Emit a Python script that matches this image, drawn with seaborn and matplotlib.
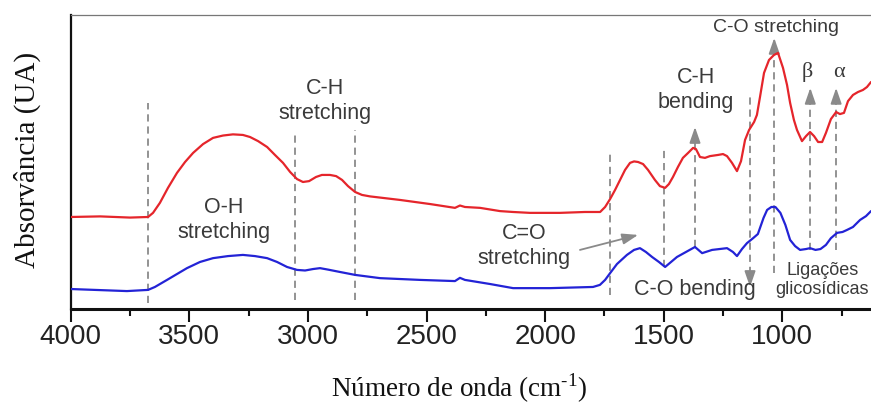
import numpy as np
import pandas as pd
import matplotlib
matplotlib.use("Agg")
import matplotlib.pyplot as plt
from matplotlib.ticker import FixedLocator, MultipleLocator
import seaborn as sns

# FTIR spectra (arbitrary absorbance units)
wavenumber_red = [4000, 3876, 3750, 3674, 3653, 3624, 3590, 3552, 3518, 3484, 3442,
                  3400, 3358, 3316, 3274, 3244, 3210, 3172, 3139, 3105, 3075, 3046,
                  3021, 2995, 2966, 2941, 2907, 2881, 2856, 2831, 2801, 2772, 2738,
                  2612, 2485, 2380, 2359, 2338, 2274, 2190, 2135, 2064, 1937, 1832,
                  1768, 1747, 1726, 1705, 1684, 1663, 1642, 1625, 1608, 1587, 1566,
                  1537, 1516, 1494, 1478, 1461, 1440, 1419, 1397, 1376, 1364, 1347,
                  1326, 1305, 1271, 1250, 1233, 1212, 1191, 1174, 1157, 1140, 1119,
                  1107, 1094, 1077, 1056, 1035, 1018, 997, 980, 967, 951, 938, 917,
                  900, 883, 866, 849, 832, 816, 795, 773, 757, 740, 723, 702, 681,
                  660, 643, 626]
absorbance_red = [.313, .315, .311, .313, .327, .361, .412, .463, .500, .531, .561,
                  .582, .590, .594, .592, .585, .571, .551, .524, .497, .466, .442,
                  .432, .435, .449, .456, .456, .452, .439, .418, .398, .388, .383,
                  .371, .357, .344, .352, .347, .344, .333, .330, .327, .327, .330,
                  .330, .347, .374, .405, .439, .473, .497, .502, .500, .493, .473,
                  .439, .418, .412, .425, .449, .483, .514, .531, .548, .544, .517,
                  .514, .520, .524, .527, .520, .497, .469, .503, .575, .609, .636,
                  .660, .721, .803, .847, .864, .871, .820, .762, .701, .643, .609,
                  .571, .588, .602, .588, .568, .568, .599, .646, .670, .663, .667,
                  .707, .728, .738, .745, .755, .772]

wavenumber_blue = [4000, 3763, 3674, 3645, 3594, 3552, 3510, 3455, 3400, 3337, 3274,
                   3223, 3172, 3130, 3088, 3046, 3012, 2978, 2949, 2915, 2865, 2801,
                   2696, 2527, 2380, 2359, 2338, 2232, 2135, 1979, 1798, 1769, 1747,
                   1726, 1697, 1655, 1625, 1600, 1575, 1549, 1520, 1494, 1469, 1444,
                   1406, 1368, 1338, 1296, 1233, 1208, 1191, 1170, 1149, 1123, 1103,
                   1079, 1064, 1046, 1029, 1008, 987, 967, 946, 925, 900, 883, 860,
                   839, 816, 795, 769, 746, 727, 702, 672, 647, 626]
absorbance_blue = [.068, .061, .065, .075, .099, .119, .139, .160, .173, .180, .184,
                   .180, .173, .160, .143, .133, .131, .136, .139, .134, .126, .116,
                   .105, .099, .095, .106, .099, .085, .071, .071, .075, .082, .099,
                   .122, .153, .184, .201, .207, .194, .177, .160, .143, .160, .177,
                   .194, .211, .190, .201, .207, .194, .180, .204, .224, .241, .255,
                   .310, .337, .347, .347, .327, .286, .235, .214, .201, .204, .207,
                   .201, .204, .218, .241, .259, .262, .269, .279, .303, .316, .333]

# Band positions marked with dashed guides (cm-1)
plain_bands = [3674, 3054, 2801, 1726, 1500]
arrow_up_bands = [1368, 1034, 882, 773]
arrow_down_bands = [1136]

x_ticks = [4000, 3500, 3000, 2500, 2000, 1500, 1000]

sns.set_theme(style="white")
plt.rcParams['font.family'] = ['Liberation Sans', 'DejaVu Sans']
plt.rcParams['mathtext.fontset'] = 'custom'
plt.rcParams['mathtext.rm'] = 'Liberation Serif'

fig = plt.figure(figsize=(8.71, 4.05), dpi=100)
ax = fig.add_axes([0.0812, 0.237, 0.9188, 0.726])

df = pd.concat([
    pd.DataFrame({'wavenumber': wavenumber_red, 'absorbance': absorbance_red,
                  'sample': 'A'}),
    pd.DataFrame({'wavenumber': wavenumber_blue, 'absorbance': absorbance_blue,
                  'sample': 'B'}),
])
sns.lineplot(data=df, x='wavenumber', y='absorbance', hue='sample',
             palette={'A': '#e5252b', 'B': '#2323d6'}, estimator=None,
             linewidth=1.6, legend=False, ax=ax, zorder=3)

ax.set_xlim(4000, 626)
ax.set_ylim(0, 1)
ax.set_xlabel('')
ax.set_ylabel('')
ax.set_yticks([])
ax.xaxis.set_major_locator(FixedLocator(x_ticks))
ax.xaxis.set_minor_locator(MultipleLocator(250))
ax.tick_params(axis='x', which='major', bottom=True, direction='out', length=9.5,
               width=1.5, color='#111111', pad=1, labelsize=20,
               labelcolor='#222222')
ax.tick_params(axis='x', which='minor', bottom=True, direction='out', length=5,
               width=1.5, color='#111111')

ax.spines['right'].set_visible(False)
ax.spines['top'].set_color('#777777')
ax.spines['top'].set_linewidth(0.9)
ax.spines['left'].set_color('#111111')
ax.spines['left'].set_linewidth(1.6)
ax.spines['bottom'].set_color('#111111')
ax.spines['bottom'].set_linewidth(2.2)

guide = dict(color='#8a8a8a', lw=1.3, ls=(0, (4, 2.7)), zorder=2)
head = dict(arrowstyle='-|>,head_length=0.95,head_width=0.33', color='#8a8a8a',
            lw=1.3, shrinkA=0, shrinkB=0, mutation_scale=10)

# plain dashed guides: (bottom, top)
plain_spans = [(.020, .701), (.031, .602), (.031, .609), (.048, .534), (.143, .541)]
for wn, (y0, y1) in zip(plain_bands, plain_spans):
    ax.plot([wn, wn], [y0, y1], **guide)

# dashed guides ending in an upward arrow head: (bottom, tip)
up_spans = [(.211, .619), (.122, .922), (.201, .752), (.201, .752)]
hl = 0.045
for wn, (y0, tip) in zip(arrow_up_bands, up_spans):
    ax.plot([wn, wn], [y0, tip - hl], **guide)
    ax.annotate('', xy=(wn, tip), xytext=(wn, tip - hl), arrowprops=head,
                zorder=2)

# dashed guide ending in a downward arrow head: (top, tip)
for wn, (y1, tip) in zip(arrow_down_bands, [(.728, .075)]):
    ax.plot([wn, wn], [tip + hl, y1], **guide)
    ax.annotate('', xy=(wn, tip), xytext=(wn, tip + hl), arrowprops=head,
                zorder=2)

# C=O pointer
ax.annotate('', xy=(1608, .252), xytext=(1853, .201), arrowprops=head)

txt = dict(color='#3a3a3a', ha='center', va='center', linespacing=1.25)
ax.text(2926, .707, 'C-H\nstretching', fontsize=15.5, **txt)
ax.text(3353, .303, 'O-H\nstretching', fontsize=15.5, **txt)
ax.text(2089, .214, 'C=O\nstretching', fontsize=15.5, **txt)
ax.text(1363, .745, 'C-H\nbending', fontsize=15.5, **txt)
ax.text(1025, .956, 'C-O stretching', fontsize=14, **txt)
ax.text(1368, .065, 'C-O bending', fontsize=15.5, **txt)
ax.text(832, .099, 'Ligações\nglicosídicas', fontsize=13, color='#3a3a3a',
        ha='center', va='center', linespacing=1.15)
ax.text(896, .806, 'β', fontsize=16, color='#3a3a3a', ha='center', va='center',
        family=['Liberation Serif', 'DejaVu Serif'])
ax.text(761, .806, 'α', fontsize=16, color='#3a3a3a', ha='center', va='center',
        family=['Liberation Serif', 'DejaVu Serif'])

fig.text(27 / 871, 1 - 160 / 405, 'Absorvância (UA)', rotation=90,
         ha='center', va='center', fontsize=21, color='#111111',
         family=['Liberation Serif', 'DejaVu Serif'])
fig.text(459 / 871, 1 - 388 / 405, r'Número de onda (cm$^{\text{-1}}$)',
         ha='center', va='center', fontsize=19.5, color='#111111',
         family=['Liberation Serif', 'DejaVu Serif'])

fig.savefig('out.png', dpi=100)
